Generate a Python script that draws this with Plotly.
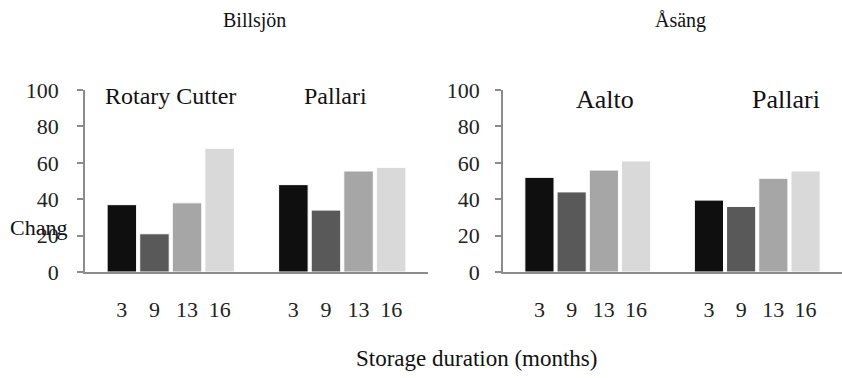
import plotly.graph_objects as go

# ---- data ----
durations = [3, 9, 13, 16]
panels = ["Billsjön", "Åsäng"]
billsjon_groups = ["Rotary Cutter", "Pallari"]
billsjon_rotary = [37, 21, 38, 68]
billsjon_pallari = [48, 34, 55.5, 57.5]
asang_groups = ["Aalto", "Pallari"]
asang_aalto = [52, 44, 56, 61]
asang_pallari = [39.5, 36, 51.5, 55.5]
y_ticks = [0, 20, 40, 60, 80, 100]

colors = ["#0f0f0f", "#595959", "#a6a6a6", "#d9d9d9"]
FONT = "'Liberation Serif', 'Times New Roman', serif"
W, H = 842, 378

step = 0.19
bw = 0.172

fig = go.Figure()

panel_data = [
    ("x", "y", [billsjon_rotary, billsjon_pallari]),
    ("x2", "y2", [asang_aalto, asang_pallari]),
]

ticks = {}
for xa, ya, groups in panel_data:
    tickvals, ticktext = [], []
    for i, d in enumerate(durations):
        xs = [g + (i - 1.5) * step for g in range(len(groups))]
        ys = [groups[g][i] for g in range(len(groups))]
        fig.add_trace(go.Bar(
            x=xs, y=ys, width=bw, xaxis=xa, yaxis=ya,
            marker=dict(color=colors[i], line=dict(color="white", width=1)),
            showlegend=False, hoverinfo="y",
        ))
    for g in range(len(groups)):
        for i, d in enumerate(durations):
            tickvals.append(g + (i - 1.5) * step)
            ticktext.append(str(d))
    ticks[xa] = (tickvals, ticktext)

ydom = [1 - 272 / H, 1 - 90 / H]
axis_line = "#8c8c8c"
xcommon = dict(range=[-0.5, 1.5], showline=True, linecolor=axis_line, linewidth=1.5,
               showgrid=False, zeroline=False, ticks="", ticklabelstandoff=17,
               automargin=False,
               tickfont=dict(family=FONT, size=22, color="#222"))
ycommon = dict(range=[0, 100], domain=ydom, tickvals=y_ticks, showline=True,
               linecolor=axis_line, linewidth=1.5, showgrid=False, zeroline=False,
               ticks="outside", ticklen=6, tickcolor=axis_line, tickwidth=1.5,
               automargin=False,
               tickfont=dict(family=FONT, size=22, color="#222"))

fig.update_layout(
    template="none",
    width=W, height=H, margin=dict(l=0, r=0, t=0, b=0, pad=0, autoexpand=False),
    paper_bgcolor="white", plot_bgcolor="white",
    font=dict(family=FONT, color="#111"),
    barmode="overlay", showlegend=False,
    xaxis=dict(domain=[85 / W, 428 / W], anchor="y",
               tickvals=ticks["x"][0], ticktext=ticks["x"][1], **xcommon),
    xaxis2=dict(domain=[503 / W, 1.0], anchor="y2",
                tickvals=ticks["x2"][0], ticktext=ticks["x2"][1], **xcommon),
    yaxis=dict(anchor="x", ticklabelstandoff=14, **ycommon),
    yaxis2=dict(anchor="x2", ticklabelstandoff=11, **ycommon),
)

def ann(text, x, y, size, xref="paper", yref="paper"):
    fig.add_annotation(text=text, x=x, y=y, xref=xref, yref=yref,
                       showarrow=False, font=dict(family=FONT, size=size, color="#111"),
                       xanchor="center", yanchor="middle")

# panel titles
ann(panels[0], 254 / W, 1 - 20 / H, 20)
ann(panels[1], 680 / W, 1 - 20 / H, 20)
# group labels
ann(billsjon_groups[0], 0.0, 96.5, 24, xref="x", yref="y")
ann(billsjon_groups[1], 0.96, 96.5, 24, xref="x", yref="y")
ann(asang_groups[0], 0.10, 95, 26, xref="x2", yref="y2")
ann(asang_groups[1], 1.17, 95, 26, xref="x2", yref="y2")
# axis titles
fig.add_annotation(text="Chang", x=8 / W, y=1 - 227 / H, xref="paper", yref="paper",
                   showarrow=False, font=dict(family=FONT, size=22, color="#111"),
                   xanchor="left", yanchor="middle")
ann("Storage duration (months)", 476 / W, 1 - 358 / H, 23)

fig.write_html("out.html")
